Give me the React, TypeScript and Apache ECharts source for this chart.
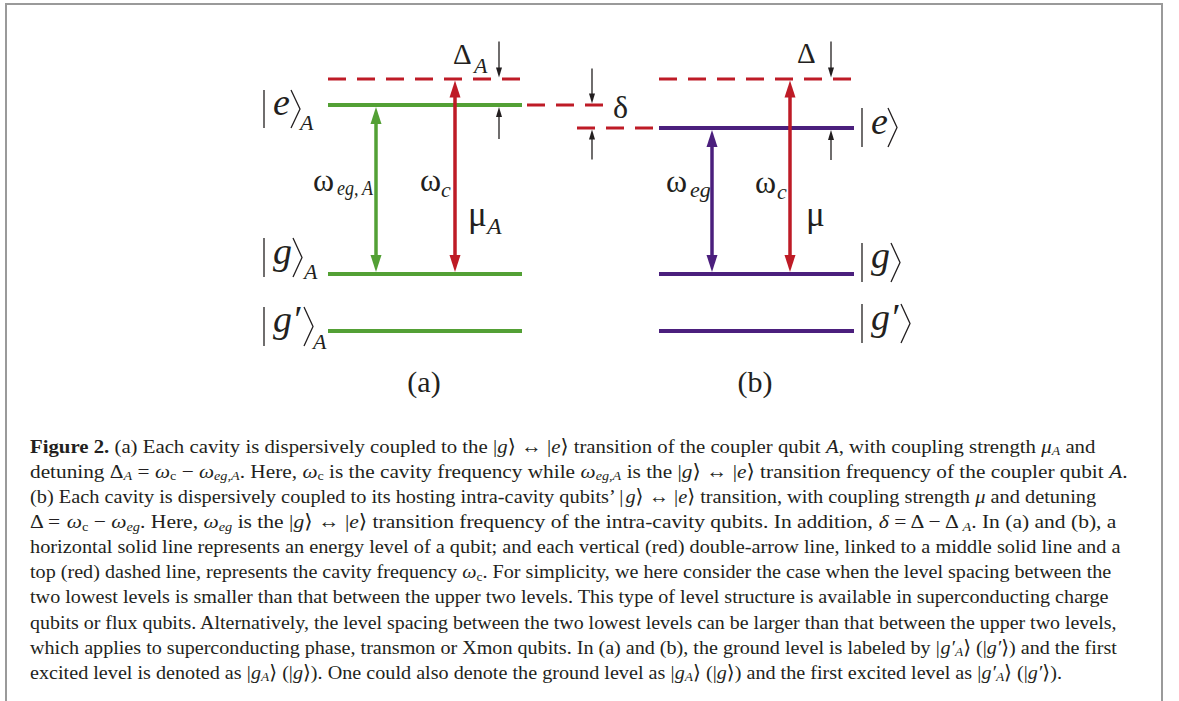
import React, { useEffect, useRef } from "react";
import * as echarts from "echarts";

// ---------------- data (energies in arbitrary units) ----------------
const panelLabels = ["(a)", "(b)"];
const levelKeys = ["g′", "g", "e"];
const qubitLevelsA = [0, 57, 226]; // |g'>_A, |g>_A, |e>_A
const qubitLevelsB = [0, 57, 203]; // |g'>, |g>, |e>
const cavityLevels = [252, 252]; // ω_c in (a) and (b)

const captionLines = [
  "{b|Figure 2.} (a) Each cavity is dispersively coupled to the |{i|g}⟩ ↔ |{i|e}⟩ transition of the coupler qubit {i|A}, with coupling strength {i|μ}{s|A} and",
  "detuning Δ{s|A} = {i|ω}{u|c} − {i|ω}{s|eg,A}. Here, {i|ω}{u|c} is the cavity frequency while {i|ω}{s|eg,A} is the |{i|g}⟩ ↔ |{i|e}⟩ transition frequency of the coupler qubit {i|A}.",
  "(b) Each cavity is dispersively coupled to its hosting intra-cavity qubits’ |{i|g}⟩ ↔ |{i|e}⟩ transition, with coupling strength {i|μ} and detuning",
  "Δ = {i|ω}{u|c} − {i|ω}{s|eg}. Here, {i|ω}{s|eg} is the |{i|g}⟩ ↔ |{i|e}⟩ transition frequency of the intra-cavity qubits. In addition, {i|δ} = Δ − Δ{s|A}. In (a) and (b), a",
  "horizontal solid line represents an energy level of a qubit; and each vertical (red) double-arrow line, linked to a middle solid line and a",
  "top (red) dashed line, represents the cavity frequency {i|ω}{u|c}. For simplicity, we here consider the case when the level spacing between the",
  "two lowest levels is smaller than that between the upper two levels. This type of level structure is available in superconducting charge",
  "qubits or flux qubits. Alternatively, the level spacing between the two lowest levels can be larger than that between the upper two levels,",
  "which applies to superconducting phase, transmon or Xmon qubits. In (a) and (b), the ground level is labeled by |{i|g′}{s|A}⟩ (|{i|g′}⟩) and the first",
  "excited level is denoted as |{i|g}{s|A}⟩ (|{i|g}⟩). One could also denote the ground level as |{i|g}{s|A}⟩ (|{i|g}⟩) and the first excited level as |{i|g′}{s|A}⟩ (|{i|g′}⟩).",
];

// ---------------- layout & style ----------------
const W = 1179;
const H = 701;
const Y_MIN = -370;
const Y_MAX = 331;
const PANEL_X = [
  [328, 522],
  [659, 854],
];
const QUBIT_ARROW_X = [376, 712];
const CAVITY_ARROW_X = [455, 790];
const DETUNE_X = [499, 831];
const DELTA_X = 592;
const BRIDGE_X = [
  [527, 607],
  [577, 659],
];
const SMALL_LEN = [36, 32, 36, 30, 35, 30];
const CAPTION_LEFT = 30;
const CAPTION_RIGHT = [1095, 1128, 1096, 1117, 1121, 1112, 1109, 1118, 1117, 1062];
const COLORS = {
  green: "#53A035",
  purple: "#4B1F7D",
  red: "#BE1B26",
  ink: "#231F20",
  frame: "#9A9A9A",
};
const PANEL_COLOR = [COLORS.green, COLORS.purple];
const SERIF = "'Liberation Serif', 'Times New Roman', 'DejaVu Serif', serif";
const CAP_FS = 19.5;
const CAP_SCALE_X = 1.03;

const panelLevels = [qubitLevelsA, qubitLevelsB];

// ---------------- helpers for labels ----------------
function txt(
  x: number,
  baseline: number,
  text: string,
  size: number,
  italic = false,
  align = "left",
  scaleX = 1
) {
  const y = baseline - 0.34 * size;
  return {
    type: "text",
    x,
    y,
    scaleX,
    silent: true,
    style: {
      text,
      fontSize: size,
      fontFamily: SERIF,
      fontStyle: italic ? "italic" : "normal",
      fill: COLORS.ink,
      textAlign: align,
      align,
      textVerticalAlign: "middle",
      verticalAlign: "middle",
    },
  };
}

function ket(
  xBar: number,
  top: number,
  bottom: number,
  content: string,
  baseline: number,
  xAngle: number,
  sub?: { x: number; baseline: number }
) {
  const els: any[] = [
    {
      type: "line",
      silent: true,
      shape: { x1: xBar, y1: top, x2: xBar, y2: bottom },
      style: { stroke: COLORS.ink, lineWidth: 1.3 },
    },
    txt(xBar + 9, baseline, content, 38, true),
    {
      type: "polyline",
      silent: true,
      shape: {
        points: [
          [xAngle, top],
          [xAngle + 9, (top + bottom) / 2],
          [xAngle, bottom],
        ],
      },
      style: { stroke: COLORS.ink, lineWidth: 1.3, fill: "none" },
    },
  ];
  if (sub) els.push(txt(sub.x, sub.baseline, "A", 22, true));
  return els;
}

// ---------------- series data built from the arrays ----------------
const levelData: number[][] = [];
panelLevels.forEach((lv, p) => lv.forEach((E, i) => levelData.push([p, i, E])));

const dashedData: number[][] = [
  ...cavityLevels.map((E, p) => [p, E, 0]),
  [0, qubitLevelsA[2], 1],
  [1, qubitLevelsB[2], 1],
];

const transitionData: number[][] = [];
panelLevels.forEach((lv, p) => {
  transitionData.push([p, lv[1], lv[2], 0]);
  transitionData.push([p, lv[1], cavityLevels[p], 1]);
});

// [xIndex, targetEnergy, direction(-1 from above, +1 from below), lenIndex, halfThickness]
const smallArrowData: number[][] = [
  [0, cavityLevels[0], -1, 0, 1.5],
  [0, qubitLevelsA[2], 1, 1, 2],
  [1, cavityLevels[1], -1, 2, 1.5],
  [1, qubitLevelsB[2], 1, 3, 2],
  [2, qubitLevelsA[2], -1, 4, 1.5],
  [2, qubitLevelsB[2], 1, 5, 1.5],
];
const SMALL_X = [...DETUNE_X, DELTA_X];

function arrowHead(x: number, tipY: number, dir: number, w: number, h: number, color: string) {
  const baseY = tipY - dir * h;
  return {
    type: "polygon",
    shape: {
      points: [
        [x, tipY],
        [x - w / 2, baseY],
        [x + w / 2, baseY],
      ],
    },
    style: { fill: color, stroke: "none" },
  };
}

const captionRich = {
  b: { fontWeight: "bold", fontSize: CAP_FS, fontFamily: SERIF, fill: COLORS.ink },
  i: { fontStyle: "italic", fontSize: CAP_FS, fontFamily: SERIF, fill: COLORS.ink },
  s: { fontStyle: "italic", fontSize: 13, fontFamily: SERIF, fill: COLORS.ink, padding: [10, 0, 0, 0] },
  u: { fontSize: 13, fontFamily: SERIF, fill: COLORS.ink, padding: [10, 0, 0, 0] },
};

function captionStyle(line: string) {
  return {
    text: line,
    rich: captionRich,
    fontSize: CAP_FS,
    fontFamily: SERIF,
    fill: COLORS.ink,
    lineHeight: 24,
    textAlign: "left",
    align: "left",
    textVerticalAlign: "middle",
    verticalAlign: "middle",
  };
}

function captionScale(line: string, k: number) {
  try {
    const G: any = (echarts as any).graphic;
    const t = new G.Text({ style: captionStyle(line) });
    const w = t.getBoundingRect().width;
    if (w > 100) {
      const s = (CAPTION_RIGHT[k] - CAPTION_LEFT) / w;
      if (s > 0.8 && s < 1.3) return s;
    }
  } catch (e) {
    /* fall back */
  }
  return CAP_SCALE_X;
}

function buildOption() {
  const graphics: any[] = [];
  graphics.push({
    type: "rect",
    silent: true,
    shape: { x: 6, y: 4, width: 1156, height: 800 },
    style: { stroke: COLORS.frame, lineWidth: 2, fill: "none" },
  });

  // kets (a)
  graphics.push(...ket(264, 90, 128, "e", 115, 291, { x: 300, baseline: 130 }));
  graphics.push(...ket(264, 238, 277, "g", 264, 293, { x: 304, baseline: 279 }));
  graphics.push(...ket(264, 307, 346, "g′", 332, 304, { x: 313, baseline: 349 }));
  // kets (b)
  graphics.push(...ket(862, 108, 147, "e", 134, 888));
  graphics.push(...ket(862, 243, 282, "g", 268, 891));
  graphics.push(...ket(862, 304, 343, "g′", 330, 901));

  // Greek labels (a)
  graphics.push(txt(453, 64, "Δ", 29));
  graphics.push(txt(474, 73, "A", 22, true));
  graphics.push(txt(313, 191, "ω", 32));
  graphics.push(txt(337, 195, "eg,\u2009A", 20, true, "left", 0.9));
  graphics.push(txt(420, 191, "ω", 32));
  graphics.push(txt(441, 197, "c", 22, true));
  graphics.push(txt(468, 226, "μ", 35));
  graphics.push(txt(487, 234, "A", 24, true));
  graphics.push(txt(613, 118, "δ", 32));
  // Greek labels (b)
  graphics.push(txt(797, 63, "Δ", 29));
  graphics.push(txt(666, 192, "ω", 32));
  graphics.push(txt(690, 197, "eg", 22, true));
  graphics.push(txt(755, 193, "ω", 32));
  graphics.push(txt(777, 199, "c", 22, true));
  graphics.push(txt(806, 226, "μ", 35));

  graphics.push(txt(424, 392, panelLabels[0], 30, false, "center"));
  graphics.push(txt(755, 392, panelLabels[1], 30, false, "center"));

  captionLines.forEach((line, k) => {
    graphics.push({
      type: "text",
      silent: true,
      x: CAPTION_LEFT,
      y: 446 + 25.1 * k,
      scaleX: captionScale(line, k),
      style: captionStyle(line),
    });
  });

  return {
    animation: false,
    backgroundColor: "#ffffff",
    grid: { left: 0, right: 0, top: 0, bottom: 0 },
    xAxis: { type: "value", min: 0, max: W, show: false },
    yAxis: { type: "value", min: Y_MIN, max: Y_MAX, show: false },
    series: [
      {
        name: "qubit levels",
        type: "custom",
        coordinateSystem: "cartesian2d",
        silent: true,
        data: levelData,
        renderItem: (_p: any, api: any) => {
          const p = api.value(0);
          const E = api.value(2);
          const a = api.coord([PANEL_X[p][0], E]);
          const b = api.coord([PANEL_X[p][1], E]);
          return {
            type: "line",
            shape: { x1: a[0], y1: a[1], x2: b[0], y2: b[1] },
            style: { stroke: PANEL_COLOR[p], lineWidth: 4 },
          };
        },
      },
      {
        name: "cavity",
        type: "custom",
        coordinateSystem: "cartesian2d",
        silent: true,
        data: dashedData,
        renderItem: (_p: any, api: any) => {
          const p = api.value(0);
          const E = api.value(1);
          const kind = api.value(2);
          const xs = kind === 0 ? PANEL_X[p] : BRIDGE_X[p];
          const a = api.coord([xs[0], E]);
          const b = api.coord([xs[1], E]);
          return {
            type: "line",
            shape: { x1: a[0], y1: a[1], x2: b[0], y2: b[1] },
            style: { stroke: COLORS.red, lineWidth: 3, lineDash: [18, 11] },
          };
        },
      },
      {
        name: "transitions",
        type: "custom",
        coordinateSystem: "cartesian2d",
        silent: true,
        z: 3,
        data: transitionData,
        renderItem: (_p: any, api: any) => {
          const p = api.value(0);
          const lo = api.value(1);
          const hi = api.value(2);
          const kind = api.value(3);
          const x0 = kind === 0 ? QUBIT_ARROW_X[p] : CAVITY_ARROW_X[p];
          const color = kind === 0 ? PANEL_COLOR[p] : COLORS.red;
          const bot = api.coord([x0, lo]);
          const top = api.coord([x0, hi]);
          const x = bot[0];
          const tipBot = bot[1] - 2;
          const tipTop = top[1] + (kind === 0 ? 2 : 1.5);
          const hh = 17;
          return {
            type: "group",
            children: [
              {
                type: "line",
                shape: { x1: x, y1: tipTop + hh - 2, x2: x, y2: tipBot - hh + 2 },
                style: { stroke: color, lineWidth: 3.5 },
              },
              arrowHead(x, tipTop, -1, 11, hh, color),
              arrowHead(x, tipBot, 1, 11, hh, color),
            ],
          };
        },
      },
      {
        name: "detuning markers",
        type: "custom",
        coordinateSystem: "cartesian2d",
        silent: true,
        z: 3,
        data: smallArrowData,
        renderItem: (_p: any, api: any) => {
          const xi = api.value(0);
          const E = api.value(1);
          const dir = api.value(2);
          const len = SMALL_LEN[api.value(3)];
          const half = api.value(4);
          const c = api.coord([SMALL_X[xi], E]);
          const x = c[0];
          const tip = c[1] + (dir < 0 ? -half : half);
          const tail = dir < 0 ? tip - len : tip + len;
          const hh = 10;
          const headBase = dir < 0 ? tip - hh + 1 : tip + hh - 1;
          return {
            type: "group",
            children: [
              {
                type: "line",
                shape: { x1: x, y1: tail, x2: x, y2: headBase },
                style: { stroke: COLORS.ink, lineWidth: 1.3 },
              },
              arrowHead(x, tip, dir < 0 ? 1 : -1, 6, hh, COLORS.ink),
            ],
          };
        },
      },
    ],
    graphic: { elements: graphics },
  };
}

export default function App() {
  const ref = useRef<HTMLDivElement>(null);
  useEffect(() => {
    if (!ref.current) return;
    const chart = echarts.init(ref.current, undefined, { renderer: "svg" });
    chart.setOption(buildOption() as any);
    return () => chart.dispose();
  }, []);
  return (
    <div
      ref={ref}
      style={{ position: "fixed", left: 0, top: 0, width: W, height: H, background: "#ffffff" }}
    />
  );
}
